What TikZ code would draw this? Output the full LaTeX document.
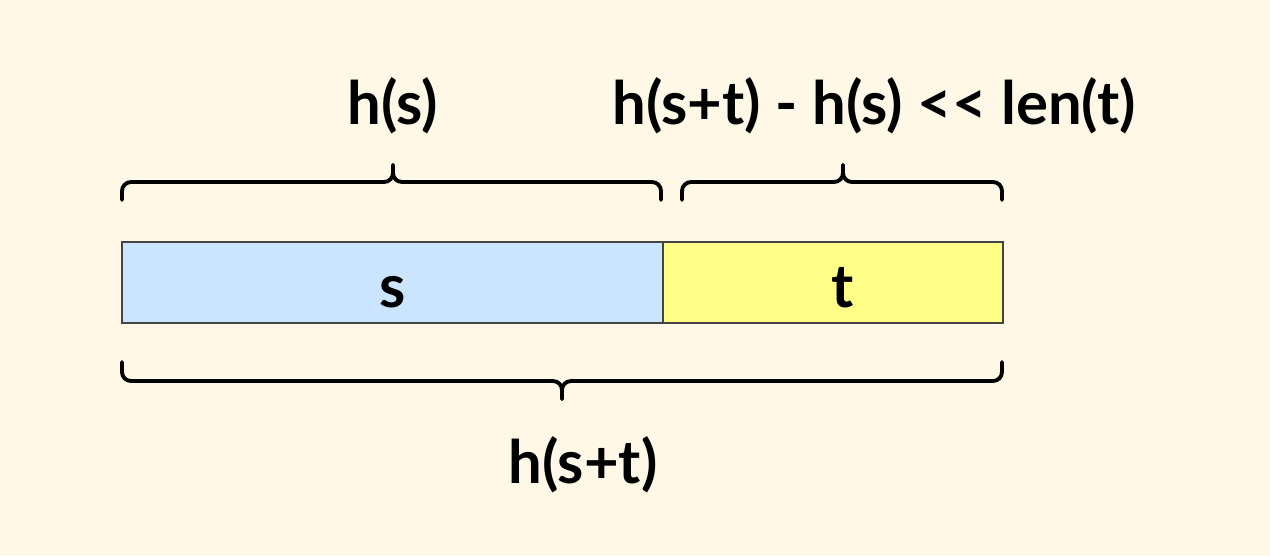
\documentclass[tikz,border=0pt]{standalone}
\usepackage{fontspec}
\setmainfont{Lato}
\usetikzlibrary{positioning}
\definecolor{bgcream}{HTML}{FFF8E7}
\definecolor{sblue}{HTML}{CCE5FF}
\definecolor{tyellow}{HTML}{FFFF88}
\definecolor{edgegray}{HTML}{444444}
\tikzstyle{seg}=[shape=rectangle,draw=edgegray,line width=0.6pt,minimum height=0.81cm,inner sep=0pt,outer sep=0pt]
\tikzstyle{brc}=[line width=1.1pt,rounded corners=0.09cm,line cap=round]
\tikzstyle{lbl}=[anchor=base,inner sep=0pt,font=\bfseries\fontsize{17}{20}\selectfont]

\begin{document}
\begin{tikzpicture}[x=0.01cm,y=-0.01cm]
\fill[bgcream] (0,0) rectangle (1270,556);
\useasboundingbox (0,0) rectangle (1270,556);
% the two parts
\node[seg,fill=sblue,minimum width=5.41cm] (s) at (392.5,282.5) {};
\node[seg,fill=tyellow,minimum width=3.40cm,right=0pt of s] (t) {};
\node[lbl] (s_txt) at (392.5,307) {s};
\node[lbl] (t_txt) at (843,307) {t};
% braces
\draw[brc] (122,200) |- (393,182) -- (393,165);
\draw[brc] (393,165) -- (393,182) -| (661,200);
\draw[brc] (682,200) |- (843,182) -- (843,165);
\draw[brc] (843,165) -- (843,182) -| (1002,200);
\draw[brc] (122,362) |- (562,381) -- (562,399);
\draw[brc] (562,399) -- (562,381) -| (1002,362);
% labels
\node[lbl] (hs) at (393,124) {h(s)};
\node[lbl] (diff) at (874,124) {h(s+t) - h(s) <\kern0pt< len(t)};
\node[lbl] (hst) at (583,483) {h(s+t)};
\end{tikzpicture}
\end{document}
